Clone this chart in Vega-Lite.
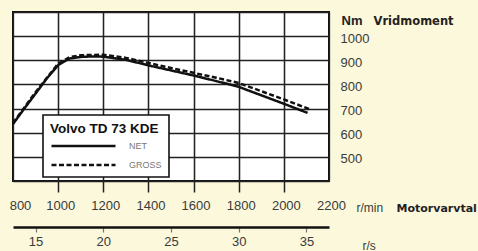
{
  "$schema": "https://vega.github.io/schema/vega-lite/v6.json",
  "width": 316,
  "height": 169,
  "autosize": {"type": "none"},
  "padding": {"left": 13, "top": 12, "right": 149, "bottom": 70},
  "background": "#fbf8dc",
  "config": {
    "font": "Liberation Sans",
    "view": {"fill": "white", "stroke": "#111", "strokeWidth": 2}
  },
  "data": {
    "values": [
      {"rpm": 800, "Nm": 636, "series": "NET"},
      {"rpm": 850, "Nm": 700, "series": "NET"},
      {"rpm": 900, "Nm": 762, "series": "NET"},
      {"rpm": 950, "Nm": 825, "series": "NET"},
      {"rpm": 1000, "Nm": 880, "series": "NET"},
      {"rpm": 1050, "Nm": 907, "series": "NET"},
      {"rpm": 1100, "Nm": 914, "series": "NET"},
      {"rpm": 1150, "Nm": 916, "series": "NET"},
      {"rpm": 1200, "Nm": 915, "series": "NET"},
      {"rpm": 1300, "Nm": 902, "series": "NET"},
      {"rpm": 1400, "Nm": 879, "series": "NET"},
      {"rpm": 1500, "Nm": 858, "series": "NET"},
      {"rpm": 1600, "Nm": 837, "series": "NET"},
      {"rpm": 1700, "Nm": 814, "series": "NET"},
      {"rpm": 1800, "Nm": 790, "series": "NET"},
      {"rpm": 1900, "Nm": 755, "series": "NET"},
      {"rpm": 2000, "Nm": 720, "series": "NET"},
      {"rpm": 2105, "Nm": 682, "series": "NET"},
      {"rpm": 800, "Nm": 640, "series": "GROSS"},
      {"rpm": 900, "Nm": 768, "series": "GROSS"},
      {"rpm": 1000, "Nm": 886, "series": "GROSS"},
      {"rpm": 1050, "Nm": 913, "series": "GROSS"},
      {"rpm": 1100, "Nm": 921, "series": "GROSS"},
      {"rpm": 1200, "Nm": 923, "series": "GROSS"},
      {"rpm": 1300, "Nm": 910, "series": "GROSS"},
      {"rpm": 1400, "Nm": 889, "series": "GROSS"},
      {"rpm": 1500, "Nm": 868, "series": "GROSS"},
      {"rpm": 1600, "Nm": 848, "series": "GROSS"},
      {"rpm": 1700, "Nm": 828, "series": "GROSS"},
      {"rpm": 1800, "Nm": 806, "series": "GROSS"},
      {"rpm": 1900, "Nm": 772, "series": "GROSS"},
      {"rpm": 2000, "Nm": 738, "series": "GROSS"},
      {"rpm": 2115, "Nm": 697, "series": "GROSS"}
    ]
  },
  "layer": [
    {
      "mark": {"type": "line", "color": "#111", "strokeWidth": 2.5},
      "encoding": {
        "x": {
          "field": "rpm", "type": "quantitative",
          "scale": {"domain": [800, 2200], "nice": false, "zero": false},
          "axis": {
            "values": [800, 1000, 1200, 1400, 1600, 1800, 2000, 2200],
            "format": "d",
            "grid": true, "gridColor": "#222", "gridWidth": 1.3, "gridOpacity": 1,
            "domain": false,
            "tickSize": 11, "tickColor": "#222", "tickWidth": 1.5,
            "tickOpacity": {"condition": {"test": "datum.value === 800 || datum.value === 2200", "value": 0}, "value": 1},
            "labelFontSize": 13, "labelColor": "#3a3a3a", "labelPadding": 7,
            "labelOffset": {"condition": {"test": "datum.value === 800", "value": 7}, "value": 2},
            "labelFlush": false, "labelOverlap": false, "labelBound": false,
            "title": "r/min", "titleFontWeight": "normal", "titleFontSize": 12, "titleColor": "#3a3a3a",
            "titleAlign": "left", "titleBaseline": "middle", "titleAnchor": "start",
            "titleX": 343, "titleY": 26
          }
        },
        "y": {
          "field": "Nm", "type": "quantitative",
          "scale": {"domain": [400, 1100], "nice": false, "zero": false},
          "axis": {
            "orient": "right",
            "values": [400, 500, 600, 700, 800, 900, 1000, 1100],
            "format": "d",
            "labelExpr": "datum.value >= 500 && datum.value <= 1000 ? datum.label : ''",
            "grid": true, "gridColor": "#222", "gridWidth": 1.3, "gridOpacity": 1,
            "domain": false, "ticks": false, "tickSize": 0,
            "labelFontSize": 13, "labelColor": "#3a3a3a", "labelPadding": 11,
            "labelAlign": "left", "labelBaseline": "middle", "labelOffset": 2,
            "title": "Nm", "titleAngle": 0, "titleFontSize": 13, "titleFontWeight": "bold", "titleColor": "#222",
            "titleAlign": "left", "titleBaseline": "middle", "titleX": 12, "titleY": 8
          }
        },
        "strokeDash": {
          "field": "series", "type": "nominal",
          "scale": {"domain": ["NET", "GROSS"], "range": [[1, 0], [5, 2.5]]},
          "legend": {
            "title": "Volvo TD 73 KDE",
            "orient": "none", "legendX": 30, "legendY": 103,
            "fillColor": "white", "strokeColor": "#111",
            "padding": 7,
            "titleFontSize": 13.5, "titleFontWeight": "bold", "titleColor": "#111", "titlePadding": 3,
            "symbolType": "M-1,0H9.67", "symbolSize": 144, "symbolStrokeWidth": 2.5, "symbolStrokeColor": "#111",
            "labelFontSize": 9, "labelColor": "#777", "labelOffset": 64,
            "rowPadding": 6,
            "encode": {
              "legend": {"update": {"strokeWidth": {"value": 1.6}}},
              "symbols": {"update": {"strokeDash": {"signal": "datum.value === 'GROSS' ? [7, 3.5] : [1, 0]"}}}
            }
          }
        }
      }
    },
    {
      "mark": {"type": "line", "opacity": 0},
      "encoding": {
        "x": {
          "field": "rpm", "type": "quantitative",
          "axis": {
            "orient": "bottom", "offset": 46,
            "values": [900, 1200, 1500, 1800, 2100],
            "labelExpr": "format(datum.value / 60, 'd')",
            "grid": false,
            "domain": true, "domainColor": "#111", "domainWidth": 2.5,
            "tickSize": 5, "tickColor": "#777", "tickWidth": 1.2,
            "labelFontSize": 13, "labelColor": "#3a3a3a", "labelPadding": 3,
            "title": "r/s", "titleFontWeight": "normal", "titleFontSize": 12, "titleColor": "#3a3a3a",
            "titleAlign": "left", "titleBaseline": "middle", "titleAnchor": "start",
            "titleX": 349, "titleY": 18
          }
        },
        "y": {
          "field": "Nm", "type": "quantitative",
          "axis": {
            "orient": "right", "labels": false, "ticks": false, "domain": false, "grid": false,
            "title": "Vridmoment", "titleAngle": 0, "titleFontSize": 11.5, "titleFontWeight": "bold",
            "titleFont": "DejaVu Sans", "titleColor": "#222",
            "titleAlign": "left", "titleBaseline": "middle", "titleX": 44, "titleY": 9
          }
        }
      }
    },
    {
      "mark": {"type": "line", "opacity": 0},
      "encoding": {
        "x": {
          "field": "rpm", "type": "quantitative",
          "axis": {
            "orient": "bottom", "labels": false, "ticks": false, "domain": false,
            "values": [1000, 1200, 1400, 1600, 1800, 2000],
            "grid": true, "gridColor": "#222", "gridWidth": 1.3, "gridOpacity": 1,
            "title": "Motorvarvtal", "titleFontSize": 11, "titleFontWeight": "bold",
            "titleFont": "DejaVu Sans", "titleColor": "#222",
            "titleAlign": "left", "titleBaseline": "middle", "titleAnchor": "start",
            "titleX": 383, "titleY": 27
          }
        },
        "y": {"field": "Nm", "type": "quantitative", "axis": null}
      }
    }
  ],
  "resolve": {"axis": {"x": "independent", "y": "independent"}}
}
